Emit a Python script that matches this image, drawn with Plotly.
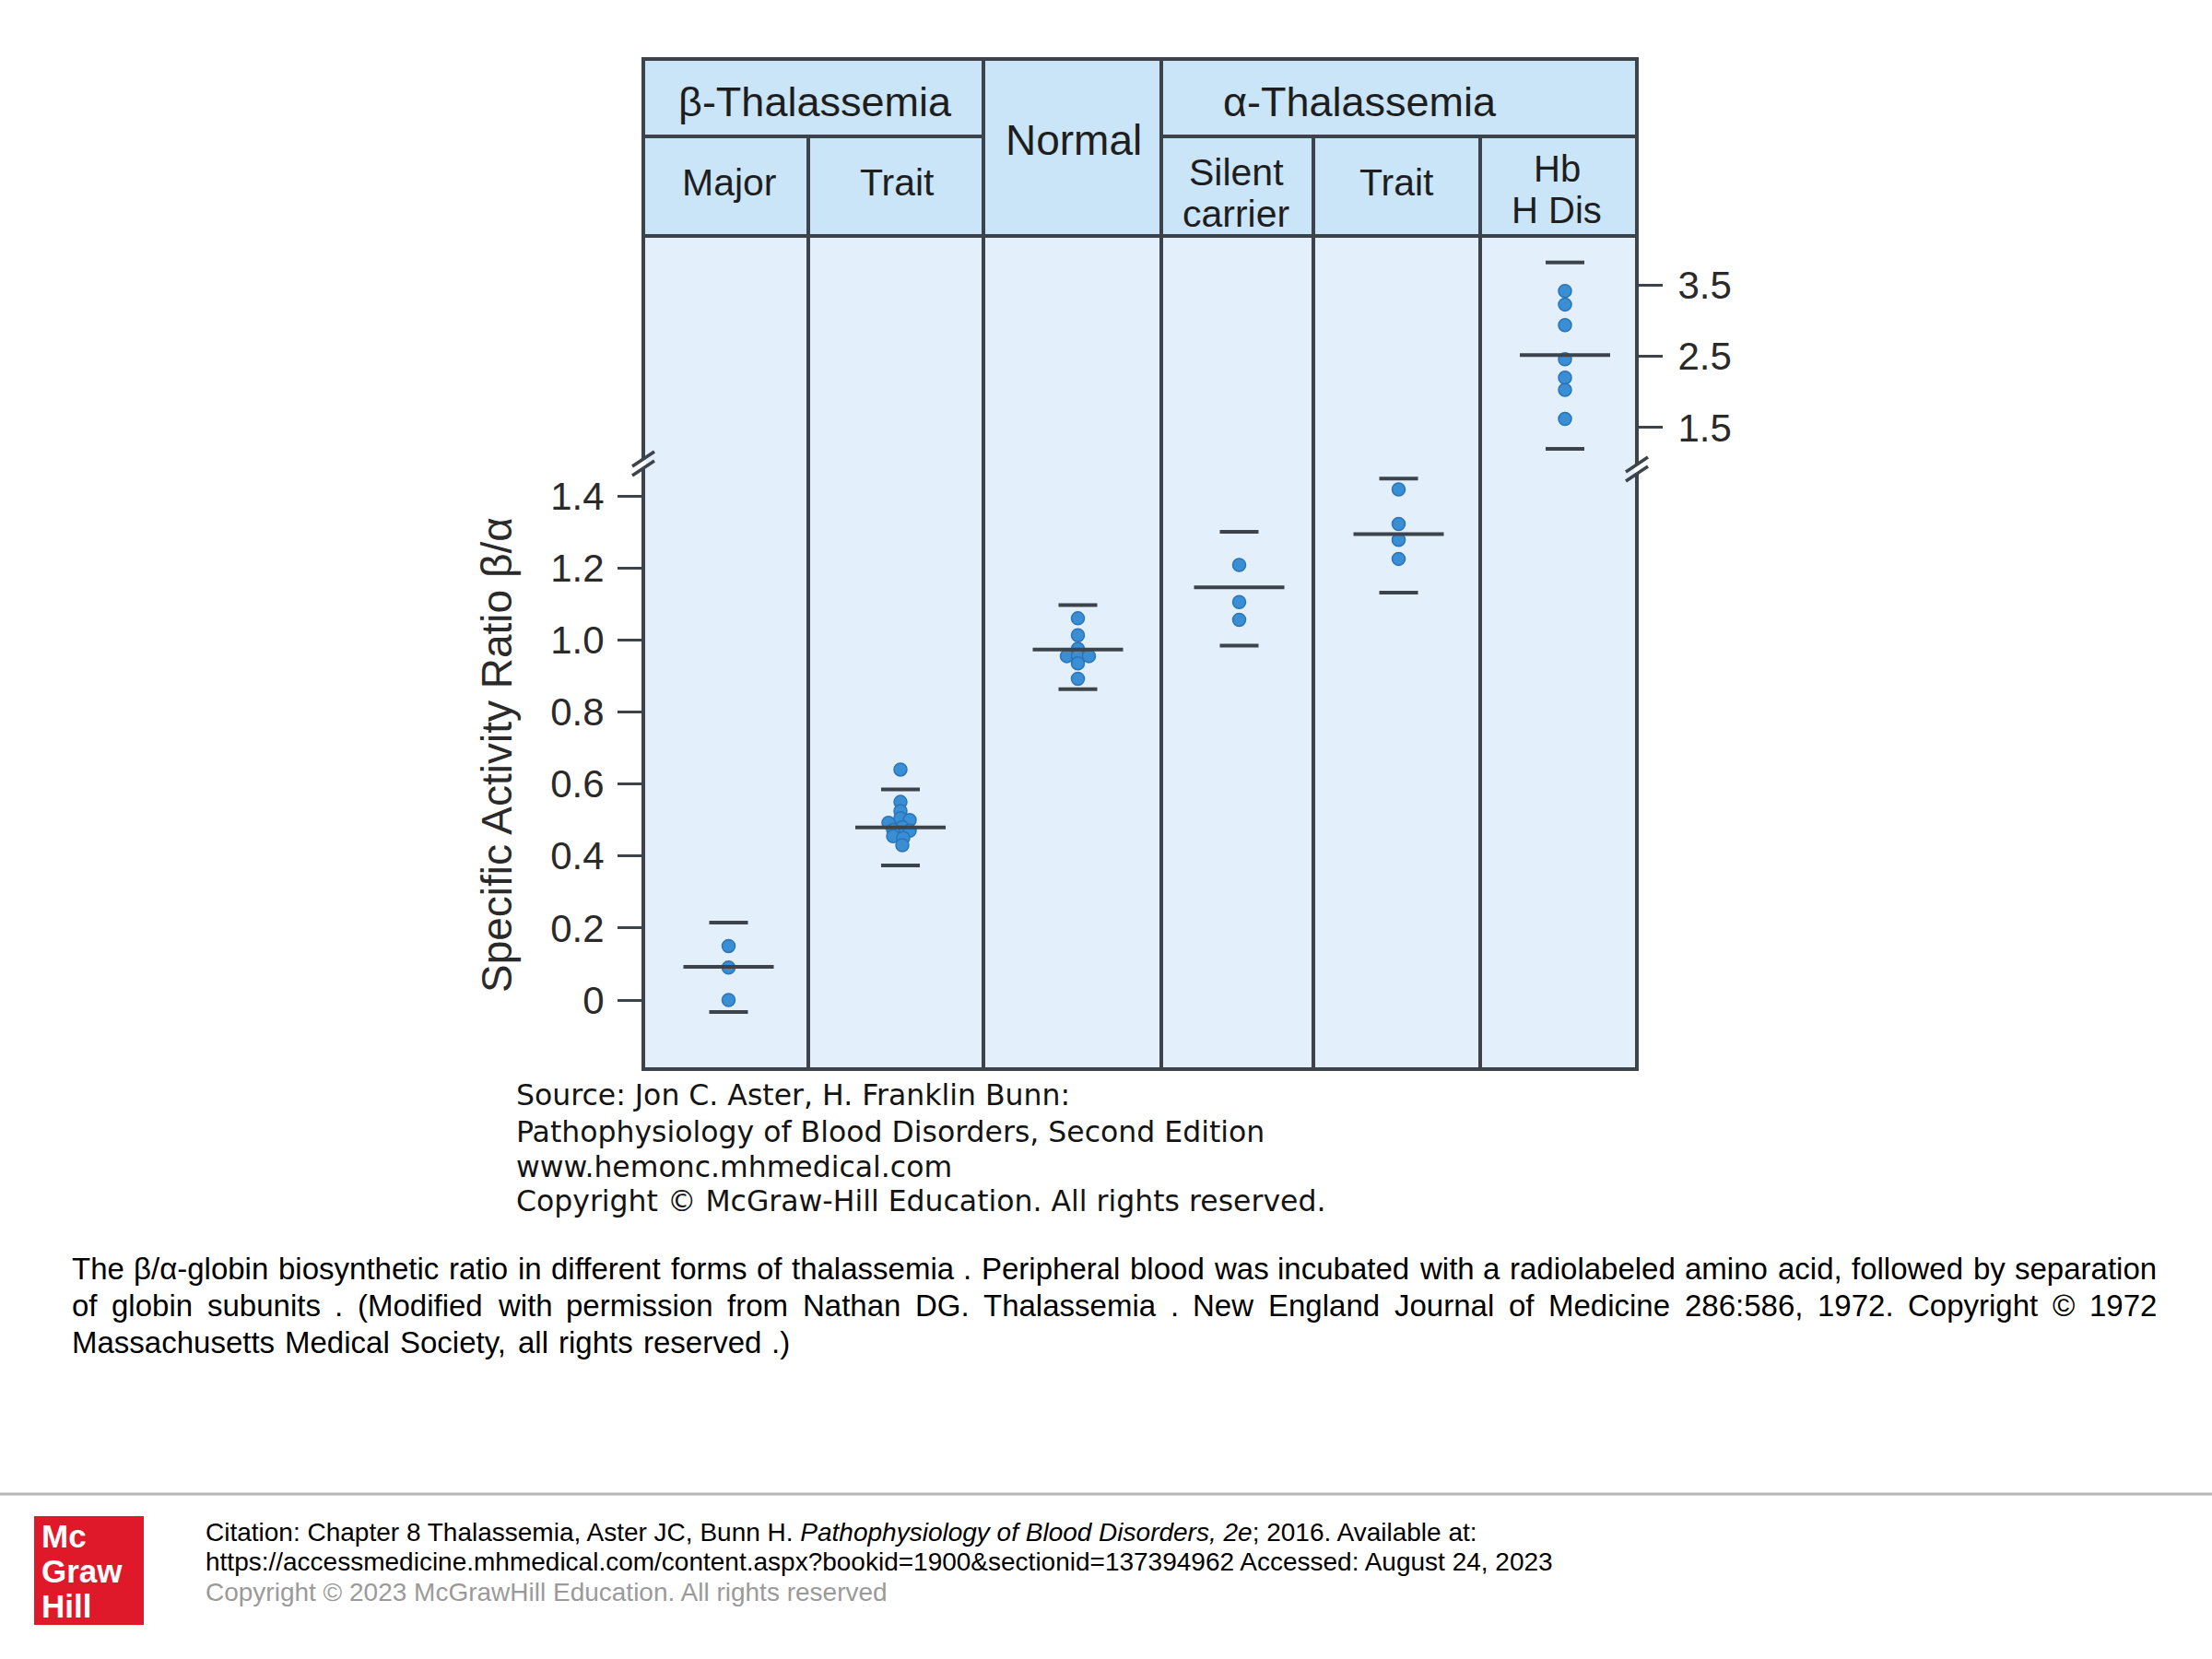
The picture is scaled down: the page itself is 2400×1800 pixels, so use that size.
import plotly.graph_objects as go

# ---------------- data ----------------
groups = ["Major", "Trait", "Normal", "Silent carrier", "Trait", "Hb H Dis"]

major_vals = [0.15, 0.09, 0.0]
beta_trait_vals = [0.64, 0.55, 0.525, 0.505, 0.50, 0.492, 0.48, 0.472, 0.47, 0.455, 0.45, 0.43]
normal_vals = [1.06, 1.013, 0.975, 0.955, 0.955, 0.955, 0.935, 0.892]
silent_vals = [1.208, 1.105, 1.056]
alpha_trait_vals = [1.418, 1.322, 1.278, 1.225]
hbh_vals = [3.42, 3.23, 2.94, 2.46, 2.20, 2.03, 1.62]

# small horizontal jitter of overlapping dots (pixels)
major_dx = [0, 0, 0]
beta_trait_dx = [0, 0, 0, 0, 10, -13, 2, -8, 10, -8, 3, 2]
normal_dx = [0, 0, 0, -12, 0, 12, 0, 0]
silent_dx = [0, 0, 0]
alpha_trait_dx = [0, 0, 0, 0]
hbh_dx = [0, 0, 0, 0, 0, 0, 0]

group_means = [0.092, 0.479, 0.973, 1.146, 1.294, 2.52]
group_upper = [0.215, 0.585, 1.097, 1.300, 1.448, 3.82]
group_lower = [-0.033, 0.374, 0.863, 0.984, 1.131, 1.20]

lower_tickvals = [0, 0.2, 0.4, 0.6, 0.8, 1.0, 1.2, 1.4]
lower_ticktext = ["0", "0.2", "0.4", "0.6", "0.8", "1.0", "1.2", "1.4"]
upper_tickvals = [1.5, 2.5, 3.5]
upper_ticktext = ["1.5", "2.5", "3.5"]

group_vals = [major_vals, beta_trait_vals, normal_vals, silent_vals, alpha_trait_vals, hbh_vals]
group_dx = [major_dx, beta_trait_dx, normal_dx, silent_dx, alpha_trait_dx, hbh_dx]
group_yaxis = ["y", "y", "y", "y", "y", "y2"]

# ---------------- layout constants ----------------
W, H = 2400, 1800
def PX(x):
    return x / W
def PY(y):
    return 1 - y / H

COL_W = [179, 190, 193, 165, 181, 170]
GROUP_SHIFT = [3, 5, 6, 2, 2, 7]   # marks sit slightly right of column centres
edges = [0]
for w in COL_W:
    edges.append(edges[-1] + w)
centers = [(edges[i] + edges[i + 1]) / 2 + GROUP_SHIFT[i] for i in range(len(COL_W))]

LEFT, RIGHT = 698, 1776
TOP, MID, HDR, BOT = 64, 148, 256, 1160
BRK = 505
# lower axis: 0 at y=1085 px, 390.7 px per unit
Y0_PX, LOW_SCALE = 1085, 390.7
low_range = [(Y0_PX - BOT) / LOW_SCALE, (Y0_PX - BRK) / LOW_SCALE]
# upper axis: 2.5 at y=386.7 px, 77.15 px per unit
U_PX, U_VAL, UP_SCALE = 386.7, 2.5, 77.15
up_range = [U_VAL - (BRK - U_PX) / UP_SCALE, U_VAL + (U_PX - HDR) / UP_SCALE]

LINE_C = "#3d434a"
HDR_FILL = "#cae5f8"
BODY_FILL = "#e3f0fb"
DOT_FILL = "#3a8fd4"
DOT_EDGE = "#2a74b8"
FONT = "Liberation Sans, Arial, sans-serif"

fig = go.Figure()

for i in range(len(groups)):
    xs = [centers[i] + d for d in group_dx[i]]
    fig.add_trace(go.Scatter(
        x=xs, y=group_vals[i], mode="markers", yaxis=group_yaxis[i],
        marker=dict(symbol="circle", size=14, color=DOT_FILL,
                    line=dict(color=DOT_EDGE, width=1.5)),
        showlegend=False, hoverinfo="y"))
    fig.add_trace(go.Scatter(
        x=[centers[i]], y=[group_means[i]], mode="markers", yaxis=group_yaxis[i],
        marker=dict(symbol="line-ew", size=70, line=dict(color=LINE_C, width=4)),
        showlegend=False, hoverinfo="y"))
    fig.add_trace(go.Scatter(
        x=[centers[i], centers[i]], y=[group_upper[i], group_lower[i]], mode="markers",
        yaxis=group_yaxis[i],
        marker=dict(symbol="line-ew", size=30, line=dict(color=LINE_C, width=4)),
        showlegend=False, hoverinfo="y"))

shapes = []
shapes.append(dict(type="rect", xref="paper", yref="paper", x0=PX(LEFT), x1=PX(RIGHT),
                   y0=PY(BOT), y1=PY(HDR), fillcolor=BODY_FILL, line=dict(width=0), layer="below"))
shapes.append(dict(type="rect", xref="paper", yref="paper", x0=PX(LEFT), x1=PX(RIGHT),
                   y0=PY(HDR), y1=PY(TOP), fillcolor=HDR_FILL, line=dict(width=0), layer="below"))
for k in range(1, len(edges) - 1):
    top = TOP if k in (2, 3) else MID
    shapes.append(dict(type="line", xref="x", yref="paper", x0=edges[k], x1=edges[k],
                       y0=PY(BOT), y1=PY(top), line=dict(color=LINE_C, width=4)))
shapes.append(dict(type="line", xref="x", yref="paper", x0=edges[0], x1=edges[2],
                   y0=PY(MID), y1=PY(MID), line=dict(color=LINE_C, width=4)))
shapes.append(dict(type="line", xref="x", yref="paper", x0=edges[3], x1=edges[6],
                   y0=PY(MID), y1=PY(MID), line=dict(color=LINE_C, width=4)))
shapes.append(dict(type="line", xref="paper", yref="paper", x0=PX(LEFT), x1=PX(RIGHT),
                   y0=PY(HDR), y1=PY(HDR), line=dict(color=LINE_C, width=4)))
shapes.append(dict(type="rect", xref="paper", yref="paper", x0=PX(LEFT), x1=PX(RIGHT),
                   y0=PY(BOT), y1=PY(TOP), line=dict(color=LINE_C, width=4)))
# axis break marks
for (bx, by, bg) in [(LEFT, 503, "#ffffff"), (RIGHT, 509, "#ffffff")]:
    shapes.append(dict(type="rect", xref="paper", yref="paper", x0=PX(bx - 3), x1=PX(bx + 3),
                       y0=PY(by + 4), y1=PY(by - 4), fillcolor=bg, line=dict(width=0)))
    for off in (-5, 5):
        shapes.append(dict(type="line", xref="paper", yref="paper",
                           x0=PX(bx - 12), y0=PY(by + off + 8), x1=PX(bx + 12), y1=PY(by + off - 8),
                           line=dict(color=LINE_C, width=3.5)))
# footer rule and logo
shapes.append(dict(type="line", xref="paper", yref="paper", x0=0, x1=1, y0=PY(1621), y1=PY(1621),
                   line=dict(color="#b8b8b8", width=3)))
shapes.append(dict(type="rect", xref="paper", yref="paper", x0=PX(37), x1=PX(156),
                   y0=PY(1763), y1=PY(1645), fillcolor="#e0192a", line=dict(width=0)))

ann = []
def text(x, y, s, size, xanchor="center", color="#1e1e1e", family=FONT, yanchor="middle", **kw):
    ann.append(dict(xref="paper", yref="paper", x=PX(x), y=PY(y), text=s, showarrow=False,
                    xanchor=xanchor, yanchor=yanchor, borderpad=0,
                    font=dict(size=size, color=color, family=family), **kw))

# header texts
text(884, 110, "β-Thalassemia", 45)
text(1475, 110, "α-Thalassemia", 45)
text(1165, 152, "Normal", 46)
text(791, 198, "Major", 41)
text(973, 198, "Trait", 41)
text(1341, 187, "Silent", 41)
text(1341, 232, "carrier", 41)
text(1515, 198, "Trait", 41)
text(1689, 183, "Hb", 40)
text(1689, 228, "H Dis", 40)

# y-axis title
text(539, 819, "Specific Activity Ratio β/α", 46, textangle=-90, color="#2a2a2a")

# source block
SRC_FONT = "DejaVu Sans, Verdana, sans-serif"
src_lines = ["Source: Jon C. Aster, H. Franklin Bunn:",
             "Pathophysiology of Blood Disorders, Second Edition",
             "www.hemonc.mhmedical.com",
             "Copyright © McGraw-Hill Education. All rights reserved."]
for s, y in zip(src_lines, [1188, 1228, 1266, 1303]):
    text(559, y, s, 31.5, xanchor="left", family=SRC_FONT, color="#141414")

# caption (justified like the reference)
cap_lines = ["The β/α-globin biosynthetic ratio in different forms of thalassemia . Peripheral blood was incubated with a radiolabeled amino acid, followed by separation",
             "of globin subunits . (Modified with permission from Nathan DG. Thalassemia . New England Journal of Medicine 286:586, 1972. Copyright © 1972",
             "Massachusetts Medical Society, all rights reserved .)"]
CW = {" ": .278, "!": .278, "(": .333, ")": .333, ",": .278, "-": .333, ".": .278, "/": .278,
      ":": .278, "©": .737, "β": .575, "α": .578, "&": .667, "?": .556, "=": .584}
for c in "0123456789":
    CW[c] = .556
CW.update(dict(zip("ABCDEFGHIJKLMNOPQRSTUVWXYZ",
                   [.667, .667, .722, .722, .667, .611, .778, .722, .278, .5, .667, .556, .833,
                    .722, .778, .667, .778, .722, .667, .611, .722, .667, .944, .667, .667, .611])))
CW.update(dict(zip("abcdefghijklmnopqrstuvwxyz",
                   [.556, .556, .5, .556, .556, .278, .556, .556, .222, .222, .5, .222, .833,
                    .556, .556, .556, .556, .333, .5, .278, .556, .5, .722, .5, .5, .5])))
def tw(s, size):
    return sum(CW.get(c, .556) for c in s) * size

CAP_SIZE = 33
CAP_L, CAP_R = 77, 2339
for li, (s, y) in enumerate(zip(cap_lines, [1376, 1416, 1456])):
    words = s.split(" ")
    if li < 2:
        total = sum(tw(w, CAP_SIZE) for w in words)
        gap = (CAP_R - CAP_L - total) / (len(words) - 1)
    else:
        gap = tw(" ", CAP_SIZE) * 1.2
    x = CAP_L
    for w in words:
        text(x, y, w, CAP_SIZE, xanchor="left", color="#000000")
        x += tw(w, CAP_SIZE) + gap

# logo text
for s, y in zip(["Mc", "Graw", "Hill"], [1666, 1704, 1742]):
    text(44, y, "<b>" + s + "</b>", 35, xanchor="left", color="#ffffff")

# citation
text(222, 1662, "Citation: Chapter 8 Thalassemia, Aster JC, Bunn H. <i>Pathophysiology of Blood Disorders, 2e</i>; 2016. Available at:",
     28, xanchor="left", color="#000000")
text(222, 1694, "https://accessmedicine.mhmedical.com/content.aspx?bookid=1900&sectionid=137394962 Accessed: August 24, 2023",
     28, xanchor="left", color="#000000")
text(222, 1727, "Copyright © 2023 McGrawHill Education. All rights reserved", 28, xanchor="left", color="#9a9a9a")

fig.update_layout(
    width=W, height=H, autosize=False,
    margin=dict(l=0, r=0, t=0, b=0),
    paper_bgcolor="#ffffff", plot_bgcolor="rgba(0,0,0,0)",
    showlegend=False,
    font=dict(family=FONT, color="#2a2a2a"),
    xaxis=dict(domain=[PX(LEFT), PX(RIGHT)], range=[edges[0], edges[-1]], visible=False,
               fixedrange=True),
    yaxis=dict(domain=[PY(BOT), PY(BRK)], range=low_range, anchor="x",
               tickvals=lower_tickvals, ticktext=lower_ticktext,
               ticks="outside", ticklen=27, tickwidth=3, tickcolor=LINE_C,
               ticklabelstandoff=6,
               showline=False, showgrid=False, zeroline=False,
               tickfont=dict(size=42, color="#2a2a2a")),
    yaxis2=dict(domain=[PY(BRK), PY(HDR)], range=up_range, anchor="x", side="right",
                tickvals=upper_tickvals, ticktext=upper_ticktext,
                ticks="outside", ticklen=27, tickwidth=3, tickcolor=LINE_C,
                ticklabelstandoff=8,
                showline=False, showgrid=False, zeroline=False,
                tickfont=dict(size=42, color="#2a2a2a")),
    shapes=shapes,
    annotations=ann,
)

fig.write_html("out.html", config={"displayModeBar": False},
               post_script="document.body.style.margin='0';document.body.style.overflow='hidden';")
